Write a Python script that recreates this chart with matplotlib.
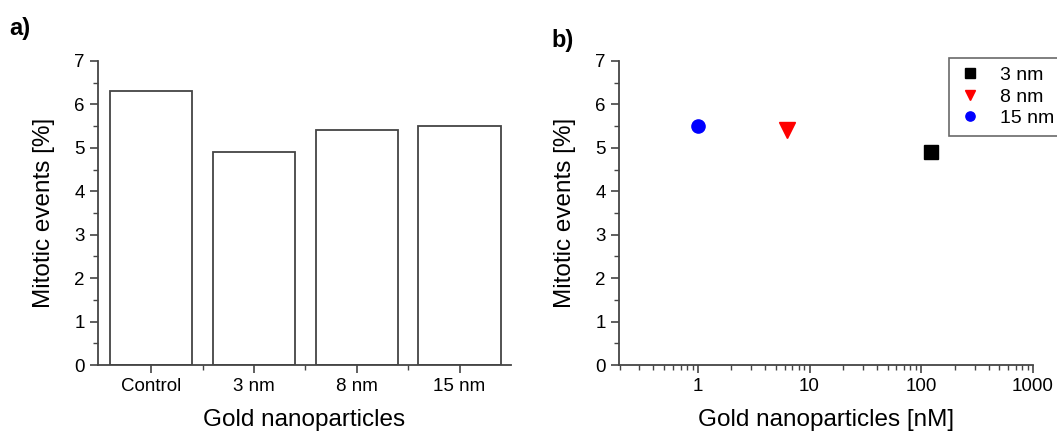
import matplotlib
matplotlib.use("Agg")
import matplotlib.pyplot as plt
from matplotlib.ticker import MultipleLocator, LogLocator, NullFormatter, FixedLocator

plt.rcParams["font.family"] = ["Liberation Sans", "DejaVu Sans"]

# Panel a) data
categories = ["Control", "3 nm", "8 nm", "15 nm"]
mitotic_pct = [6.3, 4.9, 5.4, 5.5]

# Panel b) data
sizes = ["3 nm", "8 nm", "15 nm"]
concentration_nM = [123, 6.3, 1.0]
mitotic_by_size = [4.9, 5.4, 5.5]
colors = ["black", "red", "blue"]
markers = ["s", "v", "o"]

fig = plt.figure(figsize=(10.57, 4.32), dpi=100)
ax1 = fig.add_axes([0.0927, 0.155, 0.3907, 0.704])
ax2 = fig.add_axes([0.5856, 0.155, 0.3917, 0.704])

line_col = "#444444"

def style_axes(ax):
    for side in ["top", "right"]:
        ax.spines[side].set_visible(False)
    for side in ["left", "bottom"]:
        ax.spines[side].set_color(line_col)
        ax.spines[side].set_linewidth(1.3)
    ax.tick_params(which="major", direction="out", length=6, width=1.2,
                   color=line_col, labelsize=13.5)
    ax.tick_params(which="minor", direction="out", length=3.5, width=1.0,
                   color=line_col)
    ax.set_ylim(0, 7)
    ax.yaxis.set_major_locator(MultipleLocator(1))
    ax.yaxis.set_minor_locator(MultipleLocator(0.5))
    ax.set_ylabel("Mitotic events [%]", fontsize=17.5, labelpad=14)

# a) bar chart
x = range(len(categories))
ax1.bar(x, mitotic_pct, width=0.8, facecolor="white",
        edgecolor=line_col, linewidth=1.3)
style_axes(ax1)
ax1.set_xlim(-0.52, 3.5)
ax1.set_xticks(list(x))
ax1.set_xticklabels(categories)
ax1.xaxis.set_minor_locator(FixedLocator([0.5, 1.5, 2.5]))
ax1.set_xlabel("Gold nanoparticles", fontsize=17.5, labelpad=10)

# b) scatter on log axis
for c, y, col, m, lab in zip(concentration_nM, mitotic_by_size, colors, markers, sizes):
    ax2.plot([c], [y], linestyle="none", marker=m, color=col,
             markersize=9.5 if m != "v" else 11, label=lab)
style_axes(ax2)
ax2.set_xscale("log")
ax2.set_xlim(0.197, 1000)
ax2.xaxis.set_major_locator(FixedLocator([1, 10, 100, 1000]))
ax2.set_xticklabels(["1", "10", "100", "1000"])
ax2.xaxis.set_minor_locator(LogLocator(base=10, subs=range(2, 10)))
ax2.xaxis.set_minor_formatter(NullFormatter())
ax2.set_xlabel("Gold nanoparticles [nM]", fontsize=17.5, labelpad=10)

leg = ax2.legend(loc="upper left", bbox_to_anchor=(0.797, 1.01), fontsize=14,
                 frameon=True, fancybox=False, edgecolor=line_col,
                 markerscale=0.7, handletextpad=0.9, borderpad=0.45,
                 labelspacing=0.2, handlelength=1.3, borderaxespad=0)
leg.get_frame().set_linewidth(1.2)

fig.text(0.009, 0.935, "a)", fontsize=17, fontweight="bold", va="center")
fig.text(0.522, 0.907, "b)", fontsize=17, fontweight="bold", va="center")

fig.savefig("out.png", dpi=100)
